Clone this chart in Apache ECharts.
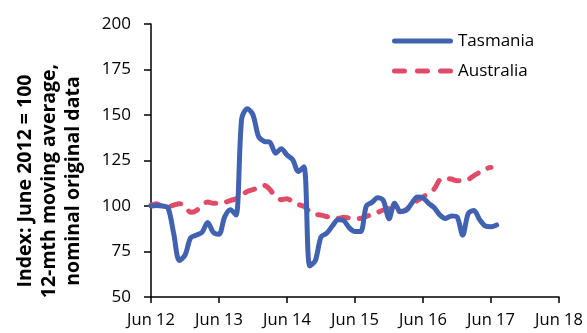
<!DOCTYPE html>
<html>
<head>
<meta charset="utf-8">
<script src="https://cdn.jsdelivr.net/npm/echarts@6/dist/echarts.min.js"></script>
<style>
  html, body { margin: 0; padding: 0; background: #fff; }
  #chart { width: 587px; height: 333px; }
</style>
</head>
<body>
<div id="chart"></div>
<script>
// Monthly index values, June 2012 = 100 (12-month moving average)
const xTickLabels = ['Jun 12', 'Jun 13', 'Jun 14', 'Jun 15', 'Jun 16', 'Jun 17', 'Jun 18'];
const yTicks = [50, 75, 100, 125, 150, 175, 200];

const tasmania = [
  100, 100.3, 100, 99, 85, 70, 73, 82.5, 84, 85.5, 91, 85.5,
  84.5, 94, 98, 95, 148, 153.5, 150, 138, 135.5, 135, 129, 131.5,
  128, 125.5, 119, 121.5, 67, 70, 83, 85, 89, 92.5, 92, 88,
  86, 86, 100, 102, 104.5, 103, 93, 101.5, 97, 97.5, 101.5, 105,
  104.5, 101.5, 99, 95, 93.2, 94.5, 94, 84, 96, 97.5, 92.5, 89,
  88.6, 89.6
];

const australia = [
  100.5, 101.3, 99.8, 99.6, 100.5, 101.3, 100, 96.5, 97.5, 100.5, 102.2, 101.5,
  101.5, 102, 103, 104, 106, 108, 109, 110, 111.3, 109, 105, 103.5,
  104, 102.3, 100.8, 99.8, 97, 95.5, 95, 94.2, 93.6, 93.2, 93.8, 93.4,
  93, 93.2, 94.3, 95.3, 96.5, 97.8, 98.6, 97.8, 96.9, 98, 100.5, 103,
  105, 107, 109.5, 114.5, 115.2, 114.8, 113.9, 114, 114.6, 116.7, 118.5, 120.4,
  121.2
];

const FONT = '"Open Sans", Lato, sans-serif';
const BLUE = '#4162B0';
const RED = '#E04C68';

// legend keys: a solid rounded bar and three rounded dashes
const ICON_SOLID = 'path://M2.5,0H58.5A2.5,2.5,0,0,1,58.5,5H2.5A2.5,2.5,0,0,1,2.5,0Z';
const ICON_DASHED = 'path://M2.5,0H12.5A2.5,2.5,0,0,1,12.5,5H2.5A2.5,2.5,0,0,1,2.5,0Z' +
  'M25.5,0H35.5A2.5,2.5,0,0,1,35.5,5H25.5A2.5,2.5,0,0,1,25.5,0Z' +
  'M48.5,0H58.5A2.5,2.5,0,0,1,58.5,5H48.5A2.5,2.5,0,0,1,48.5,0Z';

// pair each monthly value with its month offset from June 2012
const toPoints = arr => arr.map((v, i) => [i, v]);

const chart = echarts.init(document.getElementById('chart'), null, { renderer: 'canvas' });

chart.setOption({
  animation: false,
  backgroundColor: '#ffffff',
  grid: { left: 151, right: 28, top: 24, bottom: 36 },
  legend: {
    orient: 'vertical',
    left: 387,
    top: 25,
    itemWidth: 61,
    itemHeight: 5,
    itemGap: 8,
    textStyle: { fontFamily: FONT, fontSize: 17, color: '#000', lineHeight: 22 },
    data: [
      { name: 'Tasmania', icon: ICON_SOLID },
      { name: 'Australia', icon: ICON_DASHED }
    ]
  },
  graphic: [{
    type: 'text',
    x: 49,
    y: 181,
    rotation: Math.PI / 2,
    style: {
      text: 'Index: June 2012 = 100\n12-mth moving average,\nnominal original data',
      fontFamily: FONT,
      fontSize: 19.5,
      fontWeight: 'bold',
      lineHeight: 24,
      fill: '#000',
      align: 'center',
      verticalAlign: 'middle'
    }
  }],
  xAxis: {
    type: 'value',
    min: 0,
    max: 72,
    interval: 12,
    axisLine: { lineStyle: { color: '#000', width: 1.5 } },
    axisTick: { length: 6, lineStyle: { color: '#000', width: 1.5 } },
    splitLine: { show: false },
    axisLabel: {
      margin: 15,
      fontFamily: FONT,
      fontSize: 16.5,
      color: '#000',
      formatter: v => xTickLabels[Math.round(v / 12)]
    }
  },
  yAxis: {
    type: 'value',
    min: yTicks[0],
    max: yTicks[yTicks.length - 1],
    interval: 25,
    axisLine: { show: true, lineStyle: { color: '#000', width: 1.5 } },
    axisTick: { show: true, length: 7, lineStyle: { color: '#000', width: 1.5 } },
    splitLine: { show: false },
    axisLabel: {
      margin: 20,
      fontFamily: FONT,
      fontSize: 17,
      color: '#000'
    }
  },
  series: [
    {
      name: 'Tasmania',
      type: 'line',
      data: toPoints(tasmania),
      symbol: 'none',
      smooth: 0.3,
      color: BLUE,
      lineStyle: { color: BLUE, width: 5, cap: 'round', join: 'round' },
      z: 3
    },
    {
      name: 'Australia',
      type: 'line',
      data: toPoints(australia),
      symbol: 'none',
      smooth: 0.3,
      color: RED,
      lineStyle: { color: RED, width: 5, type: [10, 11], cap: 'round', join: 'round' },
      z: 2
    }
  ]
});
</script>
</body>
</html>
